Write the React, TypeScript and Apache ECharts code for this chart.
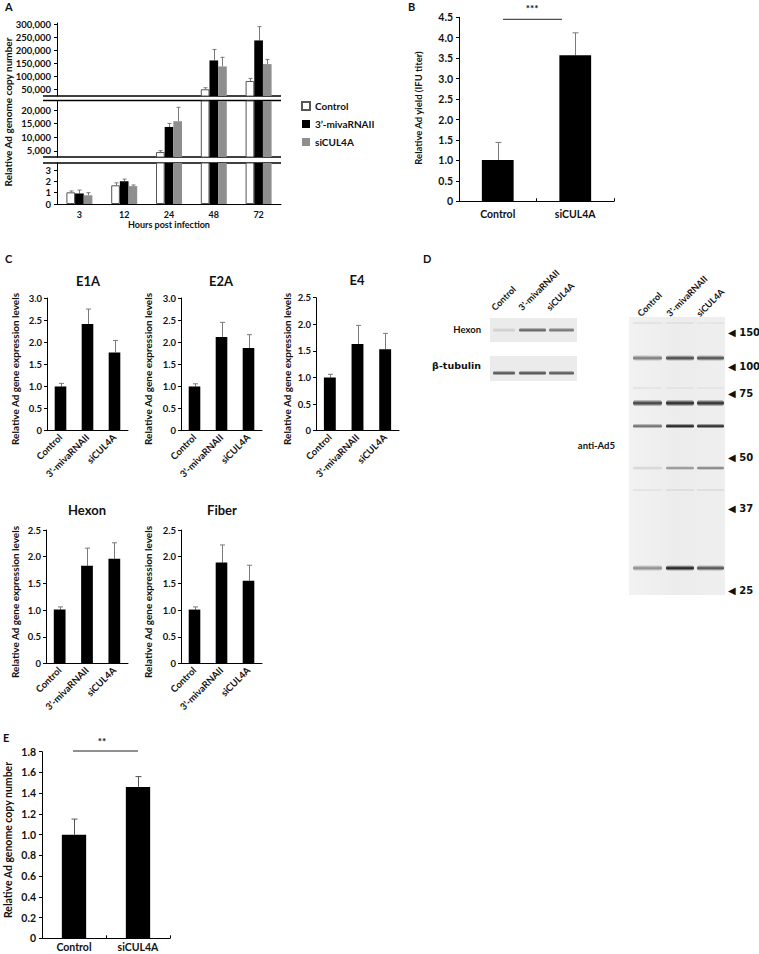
import React, { useEffect, useRef } from 'react';
import * as echarts from 'echarts';

// ---------------- data ----------------
const hours = ['3', '12', '24', '48', '72'];
const groupNames = ['Control', '3\u2019-mivaRNAII', 'siCUL4A'];
const aControl = [1.03, 1.65, 4600, 50000, 82000];
const aControlErr = [0.12, 0.22, 500, 6000, 10000];
const aMiva = [0.93, 2.0, 13800, 161000, 238000];
const aMivaErr = [0.3, 0.2, 1300, 42000, 53000];
const aSi = [0.77, 1.58, 15900, 138000, 147000];
const aSiErr = [0.23, 0.1, 5100, 35000, 18000];
const aTopTicks = [50000, 100000, 150000, 200000, 250000, 300000];
const aMidTicks = [5000, 10000, 15000, 20000];
const aLowTicks = [0, 1, 2, 3];
const aSegMin = [24200, 2800, 0];
const aSegMax = [305000, 23300, 3.62];

const bCats = ['Control', 'siCUL4A'];
const bValues = [1.01, 3.57];
const bErrors = [0.43, 0.55];

const cCats = ['Control', '3\u2019-mivaRNAII', 'siCUL4A'];
const cGenes = ['E1A', 'E2A', 'E4', 'Hexon', 'Fiber'];
const cMax = [3.0, 3.0, 2.5, 2.5, 2.5];
const e1aValues = [1.0, 2.41, 1.77];
const e1aErrors = [0.07, 0.34, 0.27];
const e2aValues = [1.0, 2.12, 1.87];
const e2aErrors = [0.06, 0.33, 0.3];
const e4Values = [1.0, 1.63, 1.53];
const e4Errors = [0.06, 0.35, 0.3];
const hexonValues = [1.01, 1.83, 1.96];
const hexonErrors = [0.05, 0.33, 0.3];
const fiberValues = [1.01, 1.89, 1.55];
const fiberErrors = [0.05, 0.33, 0.29];

const eCats = ['Control', 'siCUL4A'];
const eValues = [1.0, 1.46];
const eErrors = [0.15, 0.1];

const blotCols = ['Control', '3\u2019-mivaRNAII', 'siCUL4A'];
const mwMarkers = ['150', '100', '75', '50', '37', '25'];
const hexonBand = [0.12, 0.55, 0.48];
const tubulinBand = [0.62, 0.63, 0.6];
const ad5Bands = [
  [0.06, 0.07, 0.05],
  [0.45, 0.66, 0.63],
  [0.05, 0.06, 0.05],
  [0.68, 0.78, 0.76],
  [0.5, 0.82, 0.78],
  [0.1, 0.38, 0.45],
  [0.05, 0.09, 0.08],
  [0.38, 0.82, 0.62],
];

// ---------------- layout / style ----------------
const FONT = 'Lato, "Open Sans", "DejaVu Sans", sans-serif';
const TXT = '#111';
const ERR = '#7a7a7a';
const aGridTop = [23, 101, 163];
const aGridH = [73, 56, 41];
const cGrids = [
  { left: 47, top: 298, width: 81, height: 132.7 },
  { left: 181, top: 298, width: 81, height: 132.7 },
  { left: 316, top: 297.7, width: 83, height: 133 },
  { left: 46, top: 530, width: 82, height: 133.5 },
  { left: 181, top: 530, width: 81, height: 133.5 },
];
const cTitleXY = [[88, 281], [221, 281], [357, 280], [87, 510], [222, 510]];
const cYTitleXY = [[15, 369], [148, 369], [287, 369], [15, 602], [148, 602]];
const leftLanes = [[493, 22], [519, 27], [549, 25]];
const rightLanes = [[633, 29], [666, 28], [697, 27]];
const ad5RowY = [323, 358, 388, 403, 426, 468, 490, 568];
const ad5RowH = [3, 6, 3, 7, 5, 4, 3, 6];
const markerY = [332, 366, 393, 457, 508, 590];

function errRender(offset: number, frac: number, n: number, cap: number, color: string) {
  return function (_params: any, api: any) {
    const c = api.value(0);
    const v = api.value(1);
    const e = api.value(2);
    const p0 = api.coord([c, v]);
    const p1 = api.coord([c, v + e]);
    const band = api.size([1, 0])[0];
    const bw = (band * frac) / n;
    const x = Math.round(p0[0] + offset * bw) + 0.5;
    return {
      type: 'group',
      children: [
        { type: 'line', shape: { x1: x, y1: p0[1], x2: x, y2: p1[1] }, style: { stroke: color, lineWidth: 1 } },
        { type: 'line', shape: { x1: x - cap, y1: p1[1], x2: x + cap, y2: p1[1] }, style: { stroke: color, lineWidth: 1 } },
      ],
    };
  };
}

function txt(text: string, x: number, y: number, size: number, opts: any = {}) {
  return {
    type: 'text',
    x,
    y,
    rotation: opts.rotation || 0,
    style: {
      text,
      fontSize: size,
      fontWeight: 'bold',
      fontFamily: opts.family || FONT,
      fill: opts.fill || TXT,
      align: opts.align || 'center',
      verticalAlign: opts.valign || 'middle',
    },
  };
}

function hline(x1: number, x2: number, y: number, w = 1, color = '#000') {
  return { type: 'line', shape: { x1, y1: y, x2, y2: y }, style: { stroke: color, lineWidth: w } };
}

function grayOf(i: number) {
  const g = Math.round(238 * (1 - i));
  return `rgb(${g},${g},${g})`;
}

function bandRect(x: number, y: number, w: number, h: number, intensity: number, bg: string) {
  const c = grayOf(intensity);
  return {
    type: 'rect',
    shape: { x, y: y - h / 2, width: w, height: h, r: h / 2 },
    style: {
      fill: {
        type: 'linear', x: 0, y: 0, x2: 0, y2: 1,
        colorStops: [
          { offset: 0, color: bg },
          { offset: 0.45, color: c },
          { offset: 0.6, color: c },
          { offset: 1, color: bg },
        ],
      },
    },
  };
}

function buildOption() {
  const grid: any[] = [];
  const xAxis: any[] = [];
  const yAxis: any[] = [];
  const series: any[] = [];
  const graphic: any[] = [];

  const labelStyle = (size: number, margin: number) => ({
    fontSize: size, fontWeight: 'bold', fontFamily: FONT, color: TXT, margin,
  });
  const axisLine = { show: true, onZero: false, lineStyle: { color: '#000', width: 1 } };

  // ---------- Panel A (three broken segments) ----------
  const aVals = [aControl, aMiva, aSi];
  const aErrs = [aControlErr, aMivaErr, aSiErr];
  const aTicks = [aTopTicks, aMidTicks, aLowTicks];
  const aFmt = (v: number) => (v >= 1000 ? v.toLocaleString('en-US') : String(v));
  const barStyles = [
    { color: '#fff', borderColor: '#555', borderWidth: 1 },
    { color: '#000' },
    { color: '#8e8e8e' },
  ];
  for (let s = 0; s < 3; s++) {
    const gi = grid.length;
    grid.push({ left: 57, top: aGridTop[s], width: 224, height: aGridH[s], containLabel: false, outerBoundsMode: 'none' });
    const isLow = s === 2;
    xAxis.push({
      type: 'category', gridIndex: gi, data: hours,
      axisLine: isLow ? axisLine : { show: false },
      axisTick: { show: false },
      axisLabel: isLow ? { ...labelStyle(9, 6), interval: 0 } : { show: false },
      name: isLow ? 'Hours post infection' : '',
      nameLocation: 'middle', nameGap: 16,
      nameTextStyle: { fontSize: 9, fontWeight: 'bold', fontFamily: FONT, color: TXT },
    });
    const ticks = aTicks[s];
    yAxis.push({
      type: 'value', gridIndex: gi, min: aSegMin[s], max: aSegMax[s],
      axisLine,
      axisTick: { show: true, length: 3, lineStyle: { color: '#000' }, customValues: ticks },
      splitLine: { show: false },
      axisLabel: {
        ...labelStyle(9.5, 6), customValues: ticks,
        formatter: (v: number) => (ticks.indexOf(v) >= 0 ? aFmt(v) : ''),
      },
    });
    for (let g = 0; g < 3; g++) {
      const min = aSegMin[s];
      series.push({
        type: 'bar', name: groupNames[g], xAxisIndex: gi, yAxisIndex: gi,
        data: aVals[g].map((v) => (v > min ? v : '-')),
        barGap: '0%', barCategoryGap: '42%',
        itemStyle: barStyles[g], clip: true, silent: true,
      });
    }
    for (let g = 0; g < 3; g++) {
      series.push({
        type: 'custom', xAxisIndex: gi, yAxisIndex: gi, clip: true, silent: true,
        encode: { x: 0, y: 1 },
        data: aVals[g].map((v, i) => [i, v, aErrs[g][i]]),
        renderItem: errRender(g - 1, 0.58, 3, 2, ERR),
      });
    }
  }
  // break marks
  graphic.push(hline(43, 281, 96, 1.4), hline(43, 281, 100.5, 1.4), hline(43, 281, 157, 1.4), hline(43, 281, 163, 1.4));
  graphic.push(txt('Relative Ad genome copy number', 8, 112, 10, { rotation: Math.PI / 2 }));
  graphic.push(txt('A', 5, 6, 11, { align: 'left' }));

  // ---------- Panel B ----------
  {
    const gi = grid.length;
    grid.push({ left: 459, top: 17.3, width: 155, height: 184, containLabel: false, outerBoundsMode: 'none' });
    xAxis.push({
      type: 'category', gridIndex: gi, data: bCats, axisLine,
      axisTick: { show: true, inside: true, length: 3, lineStyle: { color: '#000' } },
      axisLabel: labelStyle(10.5, 7),
    });
    yAxis.push({
      type: 'value', gridIndex: gi, min: 0, max: 4.5, interval: 0.5, axisLine,
      axisTick: { show: true, length: 3, lineStyle: { color: '#000' } },
      splitLine: { show: false },
      axisLabel: { ...labelStyle(10.5, 6), formatter: (v: number) => (v === 0 ? '0' : v.toFixed(1)) },
    });
    series.push({ type: 'bar', xAxisIndex: gi, yAxisIndex: gi, data: bValues, barWidth: '41%', itemStyle: { color: '#000' }, silent: true });
    series.push({
      type: 'custom', xAxisIndex: gi, yAxisIndex: gi, encode: { x: 0, y: 1 }, silent: true,
      data: bValues.map((v, i) => [i, v, bErrors[i]]), renderItem: errRender(0, 1, 1, 3, ERR),
    });
    graphic.push(hline(503, 562, 19.3, 1, '#222'));
    graphic.push(txt('***', 532, 8, 10));
    graphic.push(txt('Relative Ad yield (IFU titer)', 418, 108, 9.5, { rotation: Math.PI / 2 }));
    graphic.push(txt('B', 408, 6, 11, { align: 'left' }));
  }

  // ---------- Panel C ----------
  const cVals = [e1aValues, e2aValues, e4Values, hexonValues, fiberValues];
  const cErrs = [e1aErrors, e2aErrors, e4Errors, hexonErrors, fiberErrors];
  for (let k = 0; k < 5; k++) {
    const gi = grid.length;
    grid.push({ ...cGrids[k], containLabel: false, outerBoundsMode: 'none' });
    xAxis.push({
      type: 'category', gridIndex: gi, data: cCats, axisLine,
      axisTick: { show: false },
      axisLabel: { ...labelStyle(9.5, 5), rotate: 45, interval: 0 },
    });
    yAxis.push({
      type: 'value', gridIndex: gi, min: 0, max: cMax[k], interval: 0.5, axisLine,
      axisTick: { show: true, length: 3, lineStyle: { color: '#000' } },
      splitLine: { show: false },
      axisLabel: { ...labelStyle(9.5, 5), formatter: (v: number) => (v === 0 ? '0' : v.toFixed(1)) },
    });
    series.push({ type: 'bar', xAxisIndex: gi, yAxisIndex: gi, data: cVals[k], barWidth: '43%', itemStyle: { color: '#000' }, silent: true });
    series.push({
      type: 'custom', xAxisIndex: gi, yAxisIndex: gi, encode: { x: 0, y: 1 }, silent: true,
      data: cVals[k].map((v, i) => [i, v, cErrs[k][i]]), renderItem: errRender(0, 1, 1, 2.5, ERR),
    });
    graphic.push(txt(cGenes[k], cTitleXY[k][0], cTitleXY[k][1], 13));
    graphic.push(txt('Relative Ad gene expression levels', cYTitleXY[k][0], cYTitleXY[k][1], 10, { rotation: Math.PI / 2 }));
  }
  graphic.push(txt('C', 5, 258, 11, { align: 'left' }));

  // ---------- Panel E ----------
  {
    const gi = grid.length;
    grid.push({ left: 42, top: 751.7, width: 128, height: 186.6, containLabel: false, outerBoundsMode: 'none' });
    xAxis.push({
      type: 'category', gridIndex: gi, data: eCats, axisLine,
      axisTick: { show: true, inside: true, length: 3, lineStyle: { color: '#000' } },
      axisLabel: labelStyle(10.5, 3),
    });
    yAxis.push({
      type: 'value', gridIndex: gi, min: 0, max: 1.8, interval: 0.2, axisLine,
      axisTick: { show: true, length: 3, lineStyle: { color: '#000' } },
      splitLine: { show: false },
      axisLabel: { ...labelStyle(10.5, 6), formatter: (v: number) => (v === 0 ? '0' : v.toFixed(1)) },
    });
    series.push({ type: 'bar', xAxisIndex: gi, yAxisIndex: gi, data: eValues, barWidth: '38%', itemStyle: { color: '#000' }, silent: true });
    series.push({
      type: 'custom', xAxisIndex: gi, yAxisIndex: gi, encode: { x: 0, y: 1 }, silent: true,
      data: eValues.map((v, i) => [i, v, eErrors[i]]), renderItem: errRender(0, 1, 1, 3, '#555'),
    });
    graphic.push(hline(73, 138, 751, 1, '#222'));
    graphic.push(txt('**', 102, 741, 10));
    graphic.push(txt('Relative Ad genome copy number', 8, 840, 10.5, { rotation: Math.PI / 2 }));
    graphic.push(txt('E', 3, 737, 11, { align: 'left' }));
  }

  // ---------- Panel D (blots) ----------
  graphic.push(txt('D', 423, 258, 11, { align: 'left' }));
  // left blot
  const lblX = [496, 523, 551];
  blotCols.forEach((c, i) => graphic.push(txt(c, lblX[i], 312, 9, { rotation: Math.PI / 4, align: 'left', valign: 'bottom' })));
  const bgL = '#ebebeb';
  graphic.push({ type: 'rect', shape: { x: 490, y: 318, width: 87, height: 24 }, style: { fill: bgL } });
  graphic.push({ type: 'rect', shape: { x: 490, y: 356, width: 87, height: 25 }, style: { fill: bgL } });
  leftLanes.forEach(([x, w], i) => {
    graphic.push(bandRect(x, 330, w, 5, hexonBand[i], bgL));
    graphic.push(bandRect(x, 373, w, 5, tubulinBand[i], bgL));
  });
  graphic.push(txt('Hexon', 481, 329, 9.5, { align: 'right' }));
  graphic.push(txt('\u03b2-tubulin', 481, 365, 9.5, { align: 'right', family: '"DejaVu Sans", ' + FONT }));

  // right blot
  const rLblX = [642, 671, 701];
  blotCols.forEach((c, i) => graphic.push(txt(c, rLblX[i], 318, 9, { rotation: Math.PI / 4, align: 'left', valign: 'bottom' })));
  const bgR = '#efefef';
  graphic.push({
    type: 'rect', shape: { x: 629, y: 317, width: 96, height: 278 },
    style: {
      fill: {
        type: 'linear', x: 0, y: 0, x2: 1, y2: 0,
        colorStops: [{ offset: 0, color: '#f2f2f2' }, { offset: 0.5, color: '#ececec' }, { offset: 1, color: '#efefef' }],
      },
    },
  });
  ad5Bands.forEach((row, r) => {
    rightLanes.forEach(([x, w], i) => graphic.push(bandRect(x, ad5RowY[r], w, ad5RowH[r], row[i], bgR)));
  });
  mwMarkers.forEach((m, i) => graphic.push(txt('\u25c0 ' + m, 728, markerY[i], 10, { align: 'left', family: '"DejaVu Sans", ' + FONT })));
  graphic.push(txt('anti-Ad5', 615, 445, 9.5, { align: 'right' }));

  return {
    animation: false,
    backgroundColor: '#fff',
    textStyle: { fontFamily: FONT },
    legend: {
      data: groupNames,
      orient: 'vertical', left: 301, top: 100, padding: 0,
      icon: 'rect', itemWidth: 8, itemHeight: 8, itemGap: 6, selectedMode: false,
      textStyle: { fontSize: 10, fontWeight: 'bold', fontFamily: FONT, color: TXT, lineHeight: 12 },
    },
    grid, xAxis, yAxis, series, graphic,
  };
}

export default function App() {
  const ref = useRef<HTMLDivElement>(null);
  useEffect(() => {
    const chart = echarts.init(ref.current!, null, { renderer: 'svg', width: 759, height: 954 });
    chart.setOption(buildOption() as any);
    return () => chart.dispose();
  }, []);
  return (
    <div
      ref={ref}
      style={{ position: 'absolute', left: 0, top: 0, width: 759, height: 954, background: '#fff' }}
    />
  );
}
